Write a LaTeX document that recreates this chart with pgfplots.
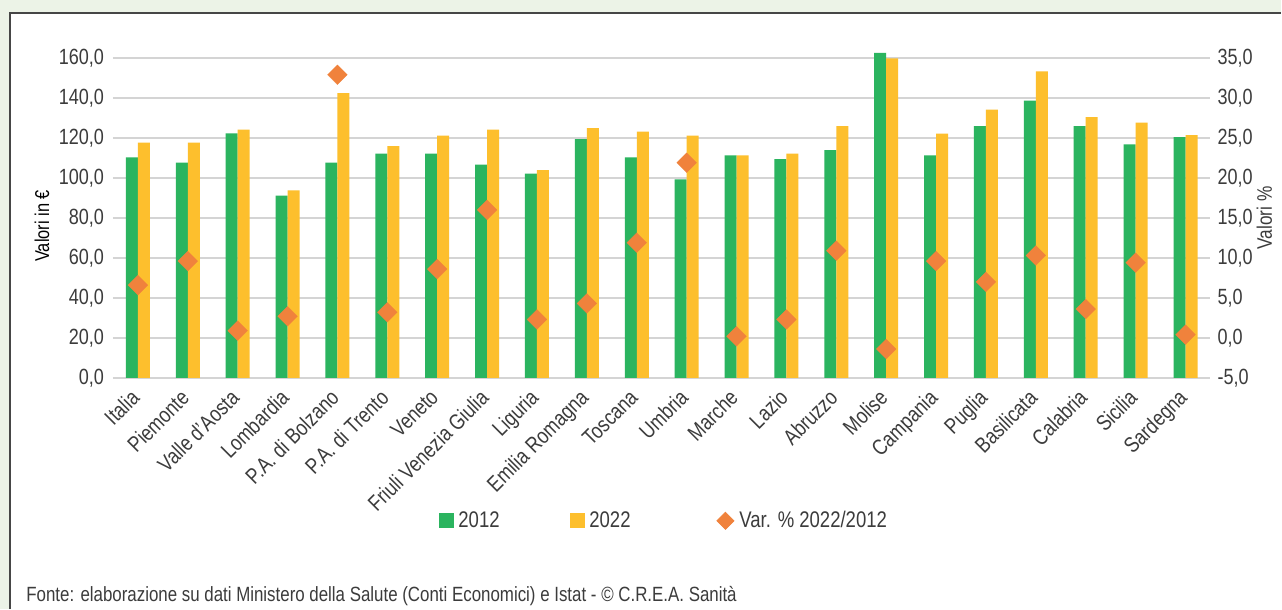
\documentclass[border=0pt]{standalone}
\usepackage{fontspec}
\setmainfont{Liberation Sans}[FakeStretch=0.82]
\usepackage{pgfplots}
\pgfplotsset{compat=1.18}
\usepackage{pgfplotstable}
\definecolor{bgcol}{RGB}{236,243,231}
\definecolor{bordercol}{RGB}{70,70,70}
\definecolor{cgreen}{RGB}{43,180,95}
\definecolor{cyellow}{RGB}{253,191,45}
\definecolor{corange}{RGB}{240,130,60}
\definecolor{txt}{RGB}{60,60,60}
\definecolor{gridc}{RGB}{212,212,212}

\pgfplotstableread{
x v12 v22 var
0 110.3 117.6 6.6
1 107.6 117.6 9.6
2 122.3 124.1 0.9
3 91.1 93.8 2.7
4 107.6 142.4 32.9
5 112.1 115.9 3.2
6 112.1 121.2 8.6
7 106.6 124.1 16.0
8 102.1 103.9 2.3
9 119.4 124.9 4.3
10 110.3 123.2 11.9
11 99.3 121.2 21.9
12 111.3 111.3 0.2
13 109.4 112.1 2.3
14 113.9 125.9 10.9
15 162.5 159.8 -1.4
16 111.3 122.1 9.6
17 125.9 134.2 7.0
18 138.7 153.3 10.3
19 125.9 130.4 3.6
20 116.8 127.7 9.4
21 120.4 121.4 0.4
}\datatable

\pgfplotsset{
  common/.style={
    scale only axis, width=549pt, height=160pt,
    at={(56.5pt,-189pt)}, anchor=south west,
    xmin=-0.5, xmax=21.5,
    axis line style={draw=none},
    major tick length=0pt,
    clip=false,
    tick label style={font=\fontsize{11}{13}\selectfont, text=txt},
    /pgf/number format/.cd, fixed, fixed zerofill, precision=1, use comma, assume math mode=true,
  },
}

\begin{document}
\begin{tikzpicture}
\fill[bgcol] (0pt,0pt) rectangle (641pt,-304.5pt);
\fill[white] (5pt,-6.5pt) rectangle (641pt,-304.5pt);
\draw[bordercol, line width=0.6pt] (5pt,-304.5pt) -- (5pt,-6.5pt) -- (641pt,-6.5pt);

\begin{axis}[common,
  ymin=0, ymax=160, ytick={0,20,...,160},
  ymajorgrids, grid style={gridc, line width=0.8pt},
  ybar=0pt, bar width=6pt,
  xtick={0,...,21},
  xticklabels={Italia, Piemonte, Valle d'Aosta, Lombardia, P.A. di Bolzano, P.A. di Trento, Veneto, Friuli Venezia Giulia, Liguria, Emilia Romagna, Toscana, Umbria, Marche, Lazio, Abruzzo, Molise, Campania, Puglia, Basilicata, Calabria, Sicilia, Sardegna},
  x tick label style={rotate=45, anchor=north east, inner sep=1pt, xshift=-5.5pt, yshift=0.5pt},
  yticklabel style={xshift=-1pt},
  ylabel={Valori in €},
  ylabel style={font=\fontsize{10.5}{13}\selectfont, text=txt},
  every axis y label/.style={at={(axis description cs:0,0.5)}, xshift=-35.5pt, yshift=-4pt, rotate=90, anchor=center},
]
\addplot[draw=none, fill=cgreen] table[x=x, y=v12] {\datatable};
\addplot[draw=none, fill=cyellow] table[x=x, y=v22] {\datatable};
\end{axis}

\begin{axis}[common,
  ymin=-5, ymax=35, ytick={-5,0,...,35},
  axis y line*=right, axis x line=none,
  yticklabel style={xshift=0pt},
  every axis y label/.style={at={(axis description cs:1,0.5)}, xshift=27pt, rotate=90, anchor=center},
  ylabel={Valori \%},
  ylabel style={font=\fontsize{10.5}{13}\selectfont, text=txt},
  legend style={at={(axis description cs:0.501,-0.447)}, anchor=center, draw=none, fill=none,
    font=\fontsize{11.3}{13}\selectfont, text=txt, legend columns=3,
    /tikz/every odd column/.append style={column sep=2.5pt},
    /tikz/every even column/.append style={column sep=35pt},
    nodes={inner sep=0pt}},
]
\addlegendimage{legend image code/.code={\fill[cgreen] (0pt,-3.5pt) rectangle (7pt,3.5pt);}}
\addlegendentry{2012}
\addlegendimage{legend image code/.code={\fill[cyellow] (0pt,-3.5pt) rectangle (7pt,3.5pt);}}
\addlegendentry{2022\hbox to 8pt{}}
\addplot[color=corange, only marks, mark=square*, mark size=3.5pt, mark options={rotate=45, draw=corange, fill=corange, line width=0.1pt},
  legend image code/.code={\fill[corange] (0pt,0pt) -- (4.25pt,4.25pt) -- (8.5pt,0pt) -- (4.25pt,-4.25pt) -- cycle;}]
  table[x=x, y=var] {\datatable};
\addlegendentry{Var. \% 2022/2012}
\end{axis}

\node[anchor=base west, font=\fontsize{10.3}{12}\selectfont, text=txt, inner sep=0pt] at (13pt,-301pt)
  {Fonte: elaborazione su dati Ministero della Salute (Conti Economici) e Istat - © C.R.E.A. Sanità};
\path (0pt,0pt) (641pt,-304.5pt);
\end{tikzpicture}
\end{document}
